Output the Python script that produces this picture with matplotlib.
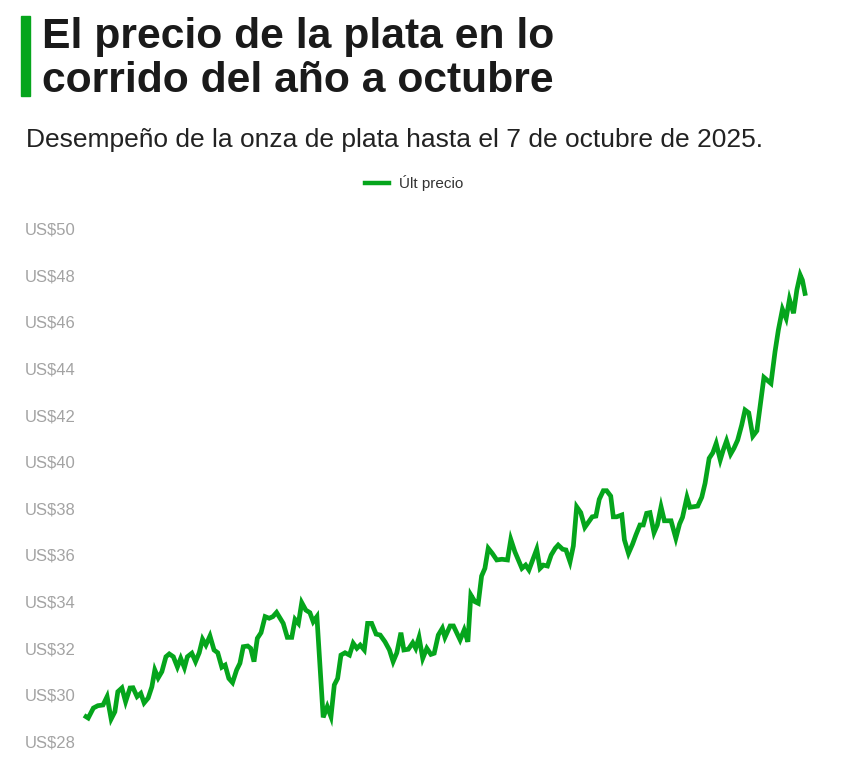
import matplotlib.pyplot as plt
import matplotlib.transforms as mtransforms
from matplotlib.lines import Line2D

# dia de negociacion (aprox.) y precio de cierre de la onza de plata, US$
dias = [0.0, 0.6, 2.0, 3.2, 4.6, 5.7, 6.8, 7.8, 8.6, 9.7, 10.7, 11.9, 12.7, 13.8, 14.8,
        15.7, 16.8, 17.8, 18.6, 19.5, 20.5, 21.6, 22.5, 23.6, 24.7, 25.6, 26.6, 27.4,
        28.6, 29.6, 30.6, 31.5, 32.4, 33.5, 34.6, 35.6, 36.7, 37.6, 38.6, 39.6, 40.7,
        41.6, 42.5, 43.7, 44.5, 45.4, 46.3, 47.3, 48.4, 49.5, 50.5, 51.5, 53.3, 54.4,
        55.6, 56.5, 57.4, 58.3, 59.4, 60.5, 61.4, 62.4, 64.1, 65.2, 66.2, 67.1, 68.0,
        68.9, 70.0, 71.2, 72.2, 73.2, 74.1, 75.2, 76.1, 77.2, 78.4, 79.5, 80.8, 82.0,
        83.0, 84.0, 85.1, 85.9, 87.1, 88.3, 89.1, 90.0, 91.0, 92.1, 93.2, 94.1, 95.2,
        96.3, 97.0, 98.4, 99.3, 101.1, 102.2, 103.2, 104.0, 105.1, 106.0, 106.9, 107.8,
        108.7, 109.8, 111.0, 112.4, 113.9, 114.8, 115.9, 117.8, 118.8, 119.7, 120.7,
        121.8, 122.7, 123.6, 124.7, 125.7, 126.8, 127.6, 128.8, 129.7, 130.8, 131.7,
        132.6, 133.7, 134.8, 135.7, 136.8, 137.8, 138.7, 139.8, 140.7, 141.8, 142.5,
        143.4, 144.8, 145.5, 146.6, 147.7, 148.6, 149.7, 150.6, 151.5, 152.4, 153.5,
        154.4, 155.4, 156.3, 158.1, 159.4, 160.4, 161.2, 162.4, 163.2, 164.1, 165.3,
        166.4, 167.3, 168.4, 169.4, 170.3, 171.4, 172.2, 173.1, 174.2, 175.1, 176.1,
        177.2, 178.1, 179.1, 180.2, 181.3, 183.2, 185.1, 186.2, 187.1, 188.2, 189.2,
        190.1, 191.2, 192.1, 193.0, 193.6, 194.3]

precio = [29.13, 29.07, 29.50, 29.60, 29.63, 29.99, 29.03, 29.34, 30.20, 30.36, 29.77,
          30.36, 30.37, 29.99, 30.13, 29.72, 29.93, 30.41, 31.13, 30.79, 31.06, 31.70,
          31.82, 31.70, 31.26, 31.63, 31.23, 31.70, 31.85, 31.49, 31.87, 32.45, 32.20,
          32.59, 31.99, 31.87, 31.25, 31.34, 30.77, 30.59, 31.13, 31.42, 32.13, 32.16,
          32.06, 31.49, 32.49, 32.73, 33.42, 33.35, 33.42, 33.60, 33.13, 32.53, 32.53,
          33.30, 33.13, 34.02, 33.70, 33.59, 33.20, 33.42, 29.10, 29.56, 29.13, 30.49,
          30.77, 31.77, 31.87, 31.77, 32.28, 32.06, 32.20, 31.99, 33.13, 33.13, 32.67,
          32.63, 32.34, 31.99, 31.49, 31.87, 32.73, 31.99, 32.02, 32.30, 32.06, 32.53,
          31.63, 32.06, 31.80, 31.85, 32.63, 32.92, 32.53, 33.02, 33.02, 32.42, 32.85,
          32.34, 34.35, 34.06, 33.99, 35.16, 35.49, 36.35, 36.13, 35.85, 35.88, 35.85,
          36.73, 36.20, 35.49, 35.63, 35.42, 35.85, 36.31, 35.49, 35.63, 35.59, 36.06,
          36.35, 36.49, 36.31, 36.28, 35.77, 36.45, 38.13, 37.88, 37.25, 37.45, 37.70,
          37.73, 38.45, 38.82, 38.82, 38.59, 37.70, 37.70, 37.78, 36.71, 36.13, 36.53,
          36.92, 37.35, 37.35, 37.85, 37.88, 37.02, 37.35, 38.13, 37.53, 37.53, 36.78,
          37.39, 37.68, 38.54, 38.11, 38.13, 38.16, 38.54, 39.14, 40.21, 40.45, 40.85,
          40.14, 40.56, 40.96, 40.39, 40.64, 40.99, 41.64, 42.28, 42.16, 41.16, 41.39,
          43.68, 43.42, 44.78, 45.71, 46.60, 46.21, 47.03, 46.43, 47.43, 48.07, 47.85,
          47.28]

niveles = [28, 30, 32, 34, 36, 38, 40, 42, 44, 46, 48, 50]

VERDE = '#05a51c'
W, H = 845, 769

fig = plt.figure(figsize=(W / 100, H / 100), dpi=100)
fig.patch.set_facecolor('white')

# titulo con barra verde
fig.patches.append(plt.Rectangle((21.5 / W, 1 - 96 / H), 9 / W, 80 / H,
                                 transform=fig.transFigure, color=VERDE))
fig.text(42 / W, 1 - 48 / H, 'El precio de la plata en lo', fontsize=30.7,
         fontweight='bold', family='Liberation Sans', color='#1a1a1a', va='baseline')
fig.text(42 / W, 1 - 92 / H, 'corrido del año a octubre', fontsize=30.7,
         fontweight='bold', family='Liberation Sans', color='#1a1a1a', va='baseline')
fig.text(26 / W, 1 - 147 / H, 'Desempeño de la onza de plata hasta el 7 de octubre de 2025.',
         fontsize=19, family='Liberation Sans', color='#222222', va='baseline')

# leyenda
fig.lines.append(Line2D([365 / W, 389 / W], [1 - 183 / H] * 2, transform=fig.transFigure,
                        color=VERDE, lw=3.2))
fig.text(399 / W, 1 - 183 / H, 'Últ precio', fontsize=11, family='Liberation Sans',
         color='#333333', va='center')

ax = fig.add_axes([86 / W, 26 / H, 719 / W, 513 / H])
ax.plot(dias, precio, color=VERDE, lw=3.4, solid_joinstyle='miter', clip_on=False)
ax.set_xlim(dias[0], dias[-1])
ax.set_ylim(28, 50)
ax.axis('off')

trans = mtransforms.blended_transform_factory(fig.transFigure, ax.transData)
for n in niveles:
    ax.text(25 / W, n, f'US${n}', transform=trans, fontsize=12, family='Liberation Sans',
            color='#a3a3a3', va='center', ha='left')

fig.savefig('out.png', dpi=100)
